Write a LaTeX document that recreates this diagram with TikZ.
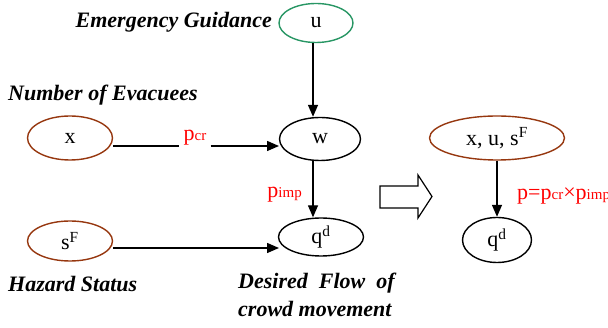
\documentclass[tikz,border=0pt]{standalone}
\usepackage{fontspec}
\setmainfont{Liberation Serif}
\usetikzlibrary{arrows.meta,shapes.geometric}
\definecolor{grn}{RGB}{40,150,100}
\definecolor{brn}{RGB}{150,55,15}
\definecolor{rd}{RGB}{255,0,0}
\newcommand{\sbs}[1]{{\fontsize{15}{16}\selectfont #1}}
\begin{document}
\begin{tikzpicture}[x=1pt,y=-1pt,
  ell/.style={draw,ellipse,line width=1.4pt,inner sep=0pt,font=\fontsize{22}{24}\selectfont},
  arr/.style={-{Triangle[length=12pt,width=10pt]},line width=1.4pt},
  tlabel/.style={font=\fontsize{22}{25}\selectfont\bfseries\itshape,inner sep=0pt},
  rlabel/.style={text=rd,font=\fontsize{22}{24}\selectfont,inner sep=1pt}]
\useasboundingbox (0,0) rectangle (608,328);
\node[ell,draw=grn,minimum width=74pt,minimum height=39pt] (u) at (316,23) {u};
\node[ell,minimum width=81pt,minimum height=43pt] (w) at (320,139) {w};
\node[ell,draw=brn,minimum width=85pt,minimum height=44pt] (x) at (70,138) {x};
\node[ell,draw=brn,minimum width=85pt,minimum height=40pt] (s) at (70,241) {s\textsuperscript{F}};
\node[ell,minimum width=85pt,minimum height=38pt] (q) at (321,237) {q\textsuperscript{d}};
\node[ell,draw=brn,minimum width=135pt,minimum height=44pt] (xus) at (497,138) {x, u, s\textsuperscript{F}};
\node[ell,minimum width=69pt,minimum height=45pt] (q2) at (497,240) {q\textsuperscript{d}};

\node[tlabel,anchor=east] (eg) at (272,22) {Emergency Guidance};
\node[tlabel,anchor=west] (ne) at (8,95) {Number of Evacuees};
\node[tlabel,anchor=west] (hs) at (8,284) {Hazard Status};
\node[tlabel,anchor=north west,align=left] (df) at (238,273) {Desired\ \ Flow\ \ of\\[3pt]crowd movement};

\coordinate (xo) at (113,146);
\coordinate (wi) at (279,146);
\node[rlabel,fill=white,inner xsep=4pt] (pcr) at (195,138) {p\sbs{cr}};
\draw[line width=1.4pt] (xo) -- (pcr.west |- xo);
\draw[arr] (pcr.east |- xo) -- (wi);

\draw[arr] (u.south -| 313,0) -- (w.north -| 313,0);
\draw[arr] (w.south -| 313,0) -- (q.north -| 313,0);
\node[rlabel,anchor=east] (pimp) at (303,195) {p\sbs{imp}};

\coordinate (so) at (113,248);
\coordinate (qi) at (279,248);
\draw[arr] (so) -- (qi);

\draw[arr] (xus.south) -- (q2.north);
\node[rlabel,anchor=west] (p) at (516,196) {p=p\sbs{cr}×p\sbs{imp}};

\draw[line width=1.2pt,line join=miter] (380,186) -- (418,186) -- (418,175) -- (432,196.5) -- (418,218) -- (418,208) -- (380,208) -- cycle;
\end{tikzpicture}
\end{document}
